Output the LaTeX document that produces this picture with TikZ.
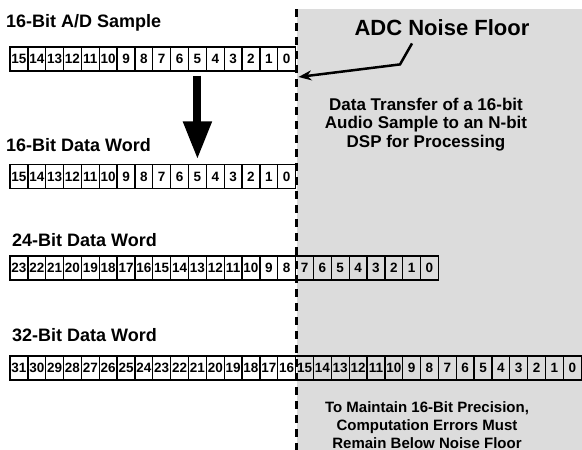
\documentclass[tikz,border=0pt]{standalone}
\usepackage{fontspec}
\setmainfont{Liberation Sans}
\usepackage{xcolor}
\usetikzlibrary{arrows.meta, positioning}
\definecolor{floorgray}{RGB}{220,220,220}

\begin{document}
\begin{tikzpicture}[x=1pt, y=-1pt,
    bitcell/.style={draw, line width=1.3pt, minimum width=17.85pt, minimum height=24pt, inner sep=0pt,
        font=\fontsize{13.5}{13.5}\selectfont\bfseries},
    wordtitle/.style={anchor=base west, inner sep=0pt, font=\fontsize{18}{18}\selectfont\bfseries},
    notetext/.style={anchor=base, align=center, inner sep=0pt, font=\fontsize{17}{18.5}\selectfont\bfseries}]
    \useasboundingbox (0,0) rectangle (582,450);

    % region below the noise floor
    \fill[floorgray] (297,9) rectangle (582,450);
    \draw[line width=2.5pt, dash pattern=on 8pt off 6pt] (296.5,9) -- (296.5,450);

    % bit rows: s = A/D sample, d = 16-bit, t = 24-bit, q = 32-bit
    \foreach \row/\n/\y in {s/16/59, d/16/176.5, t/24/268, q/32/368} {
        \pgfmathtruncatemacro{\msb}{\n-1}
        \foreach \b in {0,...,\msb} {
            \node[bitcell] (\row\b) at ({18.925 + 17.85*(\msb-\b)}, \y) {\b};
        }
    }

    \node[wordtitle] (sampletitle) at (6,27) {16-Bit A/D Sample};
    \node[wordtitle] (d16title) at (6,151) {16-Bit Data Word};
    \node[wordtitle] (d24title) at (12,246) {24-Bit Data Word};
    \node[wordtitle] (d32title) at (12,341) {32-Bit Data Word};

    \draw[line width=8pt, -{Triangle[length=38pt, width=27pt]}] ([yshift=-4pt]s5.south) -- ([yshift=4.5pt]d5.north);

    \node[anchor=base, inner sep=0pt, font=\fontsize{22}{22}\selectfont\bfseries] (adc) at (442,35) {ADC Noise Floor};
    \coordinate (floorpt) at (298.5,77);
    \draw[line width=2.5pt, -{Stealth[length=13pt, width=10pt]}] ([xshift=-30pt, yshift=-8pt]adc.south) -- ++(-12,21) -- (floorpt);

    % anchor=base is the last line here
    \node[notetext] (transfer) at (426,147) {Data Transfer of a 16-bit\\Audio Sample to an N-bit\\DSP for Processing};
    \node[notetext, font=\fontsize{15}{18}\selectfont\bfseries] (precision) at (427,448) {To Maintain 16-Bit Precision,\\Computation Errors Must\\Remain Below Noise Floor};
\end{tikzpicture}
\end{document}
